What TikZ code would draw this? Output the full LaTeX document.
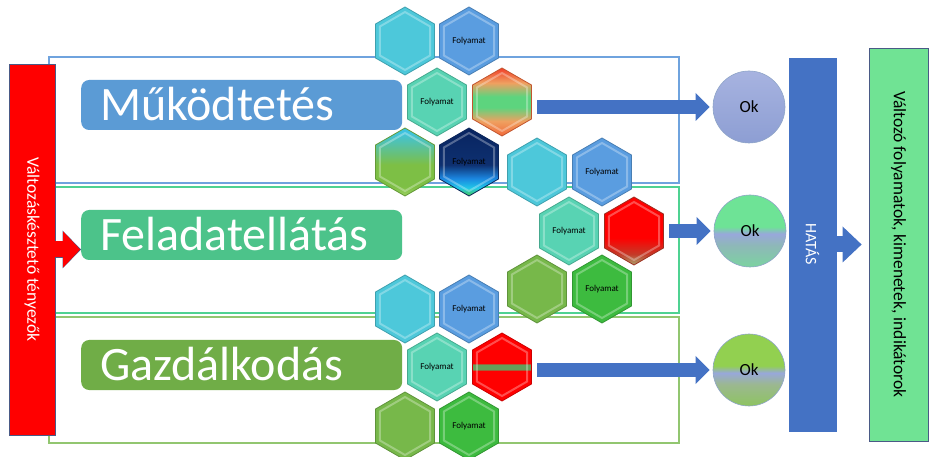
\documentclass[tikz,border=0pt]{standalone}
\usepackage{fontspec}
\setmainfont{Carlito}
\usetikzlibrary{arrows.meta,positioning,shapes.geometric}

\definecolor{kek}{HTML}{4472C4}
\definecolor{mukodkek}{HTML}{5B9BD5}
\definecolor{feladzold}{HTML}{4CC38A}
\definecolor{gazdzold}{HTML}{70AD47}
\definecolor{savkek}{HTML}{6FA3DE}
\definecolor{savturkiz}{HTML}{4FD292}
\definecolor{savzold}{HTML}{92C670}
\definecolor{vonal}{HTML}{4A5A86}
\definecolor{vilagzold}{HTML}{70E394}
\definecolor{hexcian}{HTML}{4DC8DA}
\definecolor{hexkek}{HTML}{5A9DE0}
\definecolor{hexturkiz}{HTML}{58D3B3}
\definecolor{hexolaj}{HTML}{77B84A}
\definecolor{hexzold}{HTML}{3DBB3F}
\definecolor{hexpiros}{HTML}{F2402A}
\definecolor{hexnarancs}{HTML}{F26A3A}
\definecolor{hexbarack}{HTML}{EFA060}
\definecolor{hexzoldes}{HTML}{5DD47E}
\definecolor{hexsotet}{HTML}{0E3070}
\definecolor{hexsotet2}{HTML}{082460}
\definecolor{hexvkek}{HTML}{1B86E0}
\definecolor{hexcian2}{HTML}{20C8E8}
\definecolor{hexzold2}{HTML}{4CC84A}
\definecolor{hexcian3}{HTML}{3EC3E0}
\definecolor{hexfu}{HTML}{7DBF45}
\definecolor{hexfu2}{HTML}{9AD060}
\definecolor{tisztapiros}{HTML}{FF0000}
\definecolor{sotetpiros}{HTML}{C43A28}
\definecolor{hexbarna}{HTML}{A8A26C}
\definecolor{csik}{HTML}{66A05A}
\definecolor{oklila}{HTML}{98A8DA}
\definecolor{ok1felso}{HTML}{A7B3E0}
\definecolor{ok1also}{HTML}{8D9ED3}
\definecolor{ok2felso}{HTML}{6EE396}
\definecolor{ok2kozep}{HTML}{8EB8B8}
\definecolor{ok2also}{HTML}{7BD3A0}
\definecolor{ok3felso}{HTML}{92D050}
\definecolor{ok3kozep}{HTML}{9BB890}
\definecolor{ok3also}{HTML}{8EC460}
\definecolor{okvonal}{HTML}{8FA5C8}

\pgfdeclareverticalshading{pirosnarancs}{100bp}{color(0bp)=(hexnarancs); color(25bp)=(hexnarancs); color(36bp)=(hexbarack); color(46bp)=(hexzoldes); color(54bp)=(hexzoldes); color(64bp)=(hexbarack); color(75bp)=(hexpiros); color(100bp)=(hexpiros)}
\pgfdeclareverticalshading{cianzold}{100bp}{color(0bp)=(hexfu2); color(25bp)=(hexfu2); color(32bp)=(hexfu); color(48bp)=(hexfu); color(72bp)=(hexcian3); color(100bp)=(hexcian3)}
\pgfdeclareverticalshading{sotetkek}{100bp}{color(0bp)=(hexzold2); color(25bp)=(hexzold2); color(31bp)=(hexcian2); color(38bp)=(hexvkek); color(48bp)=(hexsotet); color(75bp)=(hexsotet2); color(100bp)=(hexsotet2)}
\pgfdeclareverticalshading{pirosbarna}{100bp}{color(0bp)=(hexbarna); color(25bp)=(hexbarna); color(33bp)=(sotetpiros); color(45bp)=(tisztapiros); color(75bp)=(tisztapiros); color(100bp)=(tisztapiros)}
\pgfdeclareverticalshading{piroscsik}{100bp}{color(0bp)=(tisztapiros); color(47.5bp)=(tisztapiros); color(48bp)=(csik); color(52bp)=(csik); color(52.5bp)=(tisztapiros); color(100bp)=(tisztapiros)}
\pgfdeclareverticalshading{okzold}{100bp}{color(0bp)=(ok2also); color(25bp)=(ok2also); color(40bp)=(ok2kozep); color(48bp)=(oklila); color(53bp)=(ok2felso); color(75bp)=(ok2felso); color(100bp)=(ok2felso)}
\pgfdeclareverticalshading{okfu}{100bp}{color(0bp)=(ok3also); color(25bp)=(ok3also); color(40bp)=(ok3kozep); color(48bp)=(oklila); color(53bp)=(ok3felso); color(75bp)=(ok3felso); color(100bp)=(ok3felso)}

\begin{document}
\begin{tikzpicture}[
  x=1pt, y=-1pt,
  keret/.style={line width=1.2pt},
  cim/.style={anchor=west, rounded corners=8pt, text=white, font=\fontsize{48}{48}\selectfont, text width=283pt, align=left, inner xsep=19pt, inner ysep=0pt, minimum height=50pt, text height=31pt, text depth=0pt},
  hatszog/.style={regular polygon, regular polygon sides=6, shape border rotate=30, minimum size=68pt, inner sep=0pt, line width=0.8pt, font=\fontsize{9}{9}\selectfont,
    path picture={\draw[white, opacity=0.3, line width=2pt] (path picture bounding box.center) ++(90:29) -- ++(210:29) -- ++(270:29) -- ++(330:29) -- ++(30:29) -- ++(90:29) -- cycle;}},
  ok/.style={circle, minimum size=72pt, draw=okvonal, line width=0.6pt, font=\fontsize{17}{17}\selectfont},
  oszlop/.style={rotate=-90, draw=vonal, line width=0.8pt, inner sep=0pt},
  nyil/.style={line width=14pt, kek, -{Triangle[length=14pt, width=28pt, line width=0pt]}, shorten <=5.5pt, shorten >=3pt}
]
\useasboundingbox (0,0) rectangle (930,457);
\fill[white] (0,0) rectangle (930,457);

\draw[keret, draw=savkek] (49,57) rectangle (679,183);
\draw[keret, draw=savturkiz] (49,187) rectangle (679,313);
\draw[keret, draw=savzold] (49,317) rectangle (679,443);

\node[cim, fill=mukodkek] (mukod) at (81,105) {Működtetés};
\node[cim, fill=feladzold] (felad) at (81,235) {Feladatellátás};
\node[cim, fill=gazdzold] (gazd) at (81,365) {Gazdálkodás};

\node[hatszog, fill=hexcian, draw=hexcian!80!black] (h1a) at (405,41) {};
\node[hatszog, fill=hexkek, draw=hexkek!80!black] (h1b) at (469,41) {Folyamat};
\node[hatszog, fill=hexturkiz, draw=hexturkiz!80!black] (h1c) at (437,102) {Folyamat};
\node[hatszog, shade, shading=pirosnarancs, draw=hexnarancs!80!black] (h1d) at (502,102) {};
\node[hatszog, shade, shading=cianzold, draw=hexfu!80!black] (h1e) at (405,162) {};
\node[hatszog, shade, shading=sotetkek, draw=hexsotet!80!black] (h1f) at (469,162) {Folyamat};

\node[hatszog, fill=hexcian, draw=hexcian!80!black] (h2a) at (537,172) {};
\node[hatszog, fill=hexkek, draw=hexkek!80!black] (h2b) at (602,172) {Folyamat};
\node[hatszog, fill=hexturkiz, draw=hexturkiz!80!black] (h2c) at (569,231) {Folyamat};
\node[hatszog, shade, shading=pirosbarna, draw=sotetpiros!80!black] (h2d) at (634,231) {};
\node[hatszog, fill=hexolaj, draw=hexolaj!80!black] (h2e) at (537,289) {};
\node[hatszog, fill=hexzold, draw=hexzold!80!black] (h2f) at (602,289) {Folyamat};

\node[hatszog, fill=hexcian, draw=hexcian!80!black] (h3a) at (405,309) {};
\node[hatszog, fill=hexkek, draw=hexkek!80!black] (h3b) at (469,309) {Folyamat};
\node[hatszog, fill=hexturkiz, draw=hexturkiz!80!black] (h3c) at (437,367) {Folyamat};
\node[hatszog, shade, shading=piroscsik, draw=tisztapiros!80!black] (h3d) at (502,367) {};
\node[hatszog, fill=hexolaj, draw=hexolaj!80!black] (h3e) at (405,426) {};
\node[hatszog, fill=hexzold, draw=hexzold!80!black] (h3f) at (469,426) {Folyamat};

\node[ok, top color=ok1felso, bottom color=ok1also] (ok1) at (749,107) {Ok};
\node[ok, shade, shading=okzold] (ok2) at (750,231) {Ok};
\node[ok, shade, shading=okfu] (ok3) at (749,370) {Ok};

\draw[nyil] (h1d.east |- ok1) -- (ok1);
\draw[nyil] (h2d.east |- ok2) -- (ok2);
\draw[nyil] (h3d.east |- ok3) -- (ok3);

\node[oszlop, fill=tisztapiros, text=white, minimum width=371pt, minimum height=46pt, font=\fontsize{17.5}{17.5}\selectfont] (valt) at (32,249.5) {Változáskésztető tényezők};
\draw[line width=17.6pt, vonal, -{Triangle[length=18.5pt, width=38pt, line width=0pt]}] (valt.north) -- (valt.north -| felad.west);
\draw[line width=16pt, tisztapiros, -{Triangle[length=17pt, width=36pt, line width=0pt]}, shorten >=0.9pt] ([xshift=-1pt]valt.north) -- (valt.north -| felad.west);

\node[oszlop, fill=kek, draw=kek, text=white, minimum width=373pt, minimum height=47pt, font=\fontsize{16}{16}\selectfont] (hatas) at (812.5,244.5) {HATÁS};
\node[oszlop, fill=vilagzold, text=black, minimum width=393pt, minimum height=59pt, font=\fontsize{17.5}{17.5}\selectfont] (zold) at (898.5,244.5) {Változó folyamatok, kimenetek, indikátorok};
\draw[line width=16pt, kek, -{Triangle[length=19pt, width=36pt, line width=0pt]}, shorten >=7pt] (hatas) -- (zold);
\end{tikzpicture}
\end{document}
